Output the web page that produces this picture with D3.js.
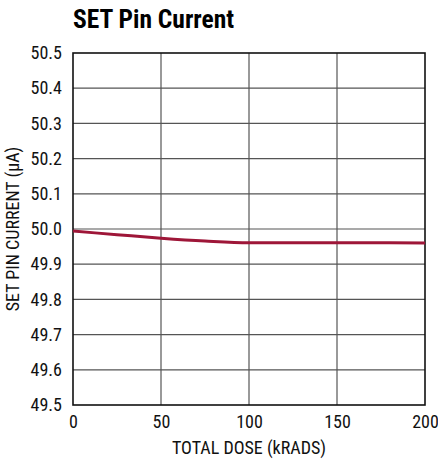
<!DOCTYPE html>
<html><head><meta charset="utf-8">
<script src="https://cdn.jsdelivr.net/npm/d3@7"></script>
<style>
body{margin:0;background:#fff;}
text{font-family:"Liberation Sans Narrow","Arial Narrow","Roboto Condensed","Liberation Sans",sans-serif;}
</style></head>
<body><svg id="c" width="438" height="461"></svg>
<script>
const doses = [0, 25, 50, 75, 100, 125, 150, 175, 200];
const current = [49.994, 49.984, 49.974, 49.966, 49.961, 49.961, 49.961, 49.961, 49.960];
const xTicks = [0, 50, 100, 150, 200];
const yTicks = [49.5, 49.6, 49.7, 49.8, 49.9, 50.0, 50.1, 50.2, 50.3, 50.4, 50.5];

const svg = d3.select("#c");
const L = 73, R = 425, T = 53, B = 405;
const x = d3.scaleLinear().domain([0, 200]).range([L, R]);
const y = d3.scaleLinear().domain([49.5, 50.5]).range([B, T]);

svg.append("text").attr("x", 73).attr("y", 28).attr("font-size", 25.5).attr("font-weight", "bold")
  .text("SET Pin Current");

// grid
const g = svg.append("g");
g.selectAll("line.v").data(xTicks.slice(1, -1)).join("line")
  .attr("x1", d => x(d)).attr("x2", d => x(d)).attr("y1", T).attr("y2", B)
  .attr("stroke", "#555").attr("stroke-width", 1.2);
g.selectAll("line.h").data(yTicks.slice(1, -1)).join("line")
  .attr("x1", L).attr("x2", R).attr("y1", d => y(d)).attr("y2", d => y(d))
  .attr("stroke", "#555").attr("stroke-width", 1.2);

// axes labels
const xAxis = svg.append("g").attr("transform", `translate(0,${B})`)
  .call(d3.axisBottom(x).tickValues(xTicks).tickSize(0).tickPadding(10).tickFormat(d3.format("d")));
xAxis.select(".domain").remove();
xAxis.selectAll("text").attr("font-size", 18).attr("fill", "#111").attr("font-family", null);

const yAxis = svg.append("g").attr("transform", `translate(${L},0)`)
  .call(d3.axisLeft(y).tickValues(yTicks).tickSize(0).tickPadding(11).tickFormat(d3.format(".1f")));
yAxis.select(".domain").remove();
yAxis.selectAll("text").attr("font-size", 18).attr("fill", "#111").attr("font-family", null);

svg.append("rect").attr("x", L).attr("y", T).attr("width", R - L).attr("height", B - T)
  .attr("fill", "none").attr("stroke", "#111").attr("stroke-width", 1.6);

// line
const line = d3.line().x((d, i) => x(doses[i])).y(d => y(d)).curve(d3.curveMonotoneX);
svg.append("path").attr("d", line(current)).attr("fill", "none")
  .attr("stroke", "#9e1638").attr("stroke-width", 3);

svg.append("text").attr("x", (L + R) / 2).attr("y", 454).attr("text-anchor", "middle")
  .attr("font-size", 18).attr("fill", "#111").text("TOTAL DOSE (kRADS)");
svg.append("text").attr("transform", `translate(19,${(T + B) / 2}) rotate(-90)`)
  .attr("text-anchor", "middle").attr("font-size", 18).attr("fill", "#111")
  .text("SET PIN CURRENT (µA)");
</script></body></html>
